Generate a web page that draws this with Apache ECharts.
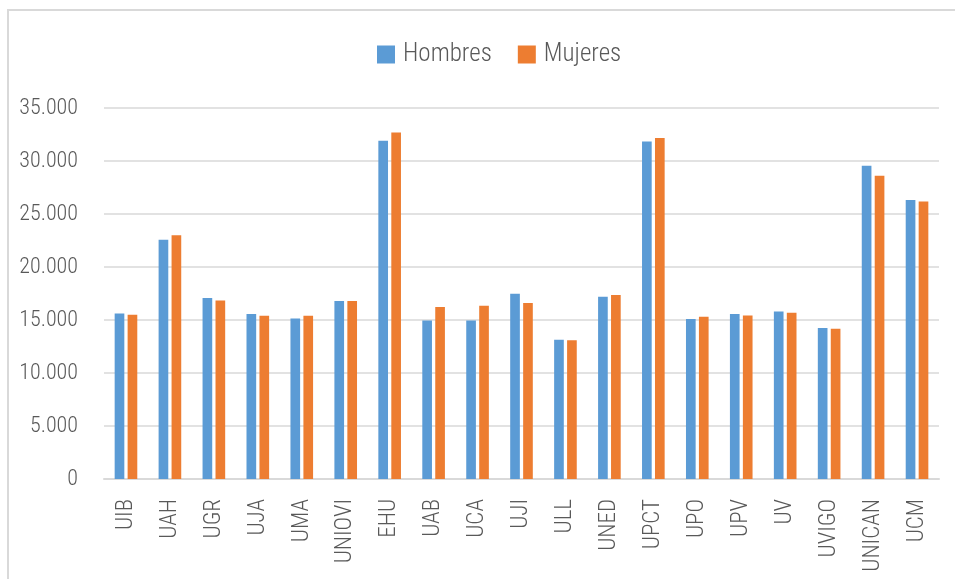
<!DOCTYPE html>
<html>
<head>
<meta charset="utf-8">
<script src="https://cdn.jsdelivr.net/npm/echarts@6/dist/echarts.min.js"></script>
<style>
html,body{margin:0;padding:0;background:#fff;}
#chart{width:955px;height:579px;}
</style>
</head>
<body>
<div id="chart"></div>
<script>
const categories = ["UIB","UAH","UGR","UJA","UMA","UNIOVI","EHU","UAB","UCA","UJI","ULL","UNED","UPCT","UPO","UPV","UV","UVIGO","UNICAN","UCM"];
const hombres = [15620,22580,17080,15570,15150,16790,31920,14960,14960,17480,13140,17200,31850,15090,15570,15810,14250,29560,26320];
const mujeres = [15500,23000,16850,15400,15400,16790,32700,16230,16350,16600,13080,17360,32170,15310,15430,15690,14180,28610,26190];
const yTicks = {min:0, max:35000, interval:5000};

const FONT = '"Roboto Condensed", "Liberation Sans Narrow", sans-serif';
const chart = echarts.init(document.getElementById('chart'), null, {renderer:'canvas'});
chart.setOption({
  animation:false,
  backgroundColor:'#ffffff',
  graphic:[{
    type:'rect', silent:true, z:-1,
    shape:{x:8, y:10, width:1200, height:1200},
    style:{fill:'none', stroke:'#D9D9D9', lineWidth:2}
  }],
  legend:{
    top:37, left:372,
    itemWidth:18, itemHeight:18, itemGap:26,
    icon:'rect',
    textStyle:{fontFamily:FONT, fontWeight:300, fontSize:25, color:'#595959', padding:[0,0,0,3]},
    data:['Hombres','Mujeres']
  },
  grid:{left:104, right:16, top:108, bottom:100, containLabel:false},
  xAxis:{
    type:'category', data:categories,
    axisLine:{lineStyle:{color:'#D9D9D9', width:2}},
    axisTick:{show:false},
    axisLabel:{rotate:90, margin:20, fontFamily:FONT, fontWeight:300, fontSize:23, color:'#595959', interval:0}
  },
  yAxis:{
    type:'value', min:yTicks.min, max:yTicks.max, interval:yTicks.interval,
    axisLine:{show:false}, axisTick:{show:false},
    splitLine:{lineStyle:{color:'#D9D9D9', width:1.5}},
    axisLabel:{margin:26, fontFamily:FONT, fontWeight:300, fontSize:22, color:'#595959',
      formatter:function(v){ return v===0 ? '0' : v.toLocaleString('de-DE'); }}
  },
  series:[
    {name:'Hombres', type:'bar', data:hombres, barWidth:'22%', barGap:'34%',
     itemStyle:{color:'#5B9BD5'}},
    {name:'Mujeres', type:'bar', data:mujeres, barWidth:'22%', barGap:'34%',
     itemStyle:{color:'#ED7D31'}}
  ]
});
</script>
</body>
</html>
